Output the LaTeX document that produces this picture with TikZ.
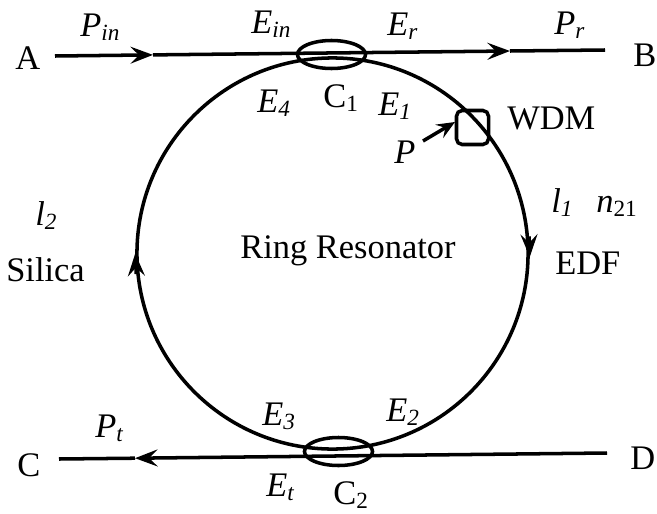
\documentclass[tikz,border=0pt]{standalone}
\usepackage{fontspec}
\setmainfont{Liberation Serif}
\usetikzlibrary{arrows.meta,shapes.geometric}
\newcommand{\lowtxt}[1]{\raisebox{-3.5pt}{\fontsize{16.5}{16.5}\selectfont #1}}

\begin{document}
\begin{tikzpicture}[
  x=0.025cm, y=-0.025cm,
  fibre/.style={line width=2.5pt},
  flow/.style={-{Stealth[length=16pt,width=12pt,inset=6pt]}, line width=2.5pt},
  pump/.style={-{Stealth[length=13pt,width=11pt,inset=5pt]}, line width=2.5pt},
  coup/.style={draw, ellipse, line width=2.5pt, minimum width=1.7cm, minimum height=0.7cm, inner sep=0},
  wdmbox/.style={draw, rounded corners=4pt, line width=2.5pt, minimum width=0.8cm, minimum height=0.85cm, inner sep=0},
  lbl/.style={font=\fontsize{24.5}{26}\selectfont, inner sep=0, anchor=base west},
  sym/.style={lbl, font=\fontsize{24.5}{26}\selectfont\itshape}
]
\useasboundingbox (0,0) rectangle (657,513);

%% Ring, couplers, pump box
\node[draw, circle, line width=2.5pt, minimum size=9.775cm, inner sep=0] (ring) at (332.5,253.5) {};
\node[coup] (c1) at (331.5,54.5) {};
\node[coup] (c2) at (338.5,451.5) {};
\node[wdmbox] (wdm) at (472.5,127.5) {};

%% Bus line ends
\coordinate (ain) at (55,56);
\coordinate (amid) at (153,54.9);
\coordinate (bmid) at (510,51);
\coordinate (bout) at (605,50);
\coordinate (dout) at (607,453);
\coordinate (cmid) at (135,458.2);
\coordinate (cin) at (59,459);
\coordinate (pin) at (423,141);
\coordinate (wdmin) at (455,122);

%% Bus lines
\draw[flow] (ain) -- (amid);
\draw[flow] (amid) -- (bmid);
\draw[fibre] (bmid) -- (bout);
\draw[flow] (dout) -- (cmid);
\draw[fibre] (cmid) -- (cin);

%% Ring direction
\draw[flow] (ring.5) -- (ring.-1);
\draw[flow] (ring.186) -- (ring.180);
\draw[pump] (pin) -- (wdmin);

%% Labels
\node[lbl] (porta) at (15,69) {A};
\node[lbl] (portb) at (633,66) {B};
\node[lbl] (portc) at (17,476) {C};
\node[lbl] (portd) at (630,469) {D};
\node[sym] (pinl) at (80,36) {P\lowtxt{in}};
\node[sym] (einl) at (251,33) {E\lowtxt{in}};
\node[sym] (erl) at (387,35) {E\lowtxt{r}};
\node[sym] (prl) at (554,34) {P\lowtxt{r}};
\node[sym] (e4l) at (257,112) {E\lowtxt{4}};
\node[lbl] (c1l) at (323,107) {C\lowtxt{1}};
\node[sym] (e1l) at (378,115) {E\lowtxt{1}};
\node[lbl] (wdml) at (507,129) {WDM};
\node[sym] (pl) at (394,163) {P};
\node[sym] (l1l) at (551,212) {l\lowtxt{1}};
\node[lbl] (n21l) at (596,212) {\textit{n}\lowtxt{21}};
\node[sym] (l2l) at (35,225) {l\lowtxt{2}};
\node[lbl] (edfl) at (555,274) {EDF};
\node[lbl] (sil) at (6,281) {Silica};
\node[lbl] (rrl) at (240,258) {Ring Resonator};
\node[sym] (e3l) at (262,425) {E\lowtxt{3}};
\node[sym] (e2l) at (386,421) {E\lowtxt{2}};
\node[sym] (ptl) at (95,437) {P\lowtxt{t}};
\node[sym] (etl) at (266,496) {E\lowtxt{t}};
\node[lbl] (c2l) at (333,504) {C\lowtxt{2}};
\end{tikzpicture}
\end{document}
